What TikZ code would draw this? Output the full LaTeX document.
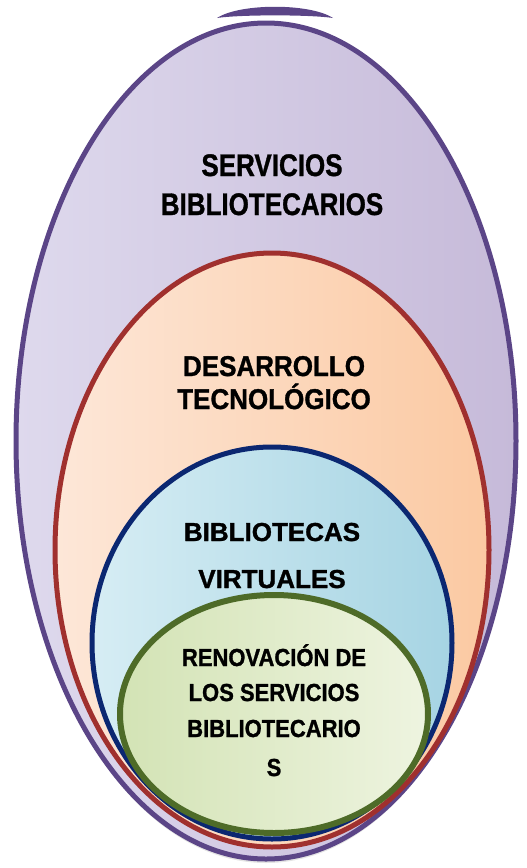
\documentclass[tikz,border=0pt]{standalone}
\usepackage{fontspec}
\setmainfont{Liberation Sans}[BoldFeatures={FakeBold=1.2}]
\usepackage{graphicx}
\definecolor{purpleline}{HTML}{5B4587}
\definecolor{purpleL}{HTML}{DED9ED}
\definecolor{purpleR}{HTML}{C6BAD9}
\definecolor{redline}{HTML}{A0302E}
\definecolor{peachL}{HTML}{FDE7D8}
\definecolor{peachR}{HTML}{FBC9A2}
\definecolor{navyline}{HTML}{0B2771}
\definecolor{cyanL}{HTML}{D6EDF4}
\definecolor{cyanR}{HTML}{A6D4E3}
\definecolor{greenline}{HTML}{4E6B28}
\definecolor{greenL}{HTML}{D3E3B5}
\definecolor{greenR}{HTML}{EEF4E0}
\begin{document}
\begin{tikzpicture}[x=1pt,y=-1pt,
  lbl/.style={anchor=base,inner sep=0pt,font=\fontsize{26}{30}\selectfont\bfseries,text=black},
  lblsmall/.style={anchor=base,inner sep=0pt,font=\fontsize{22}{26}\selectfont\bfseries,text=black}]
\useasboundingbox (0,0) rectangle (527,868);
% shadow at bottom
\fill[gray!35,opacity=0.6] (266,444) ellipse [x radius=250pt, y radius=419pt];
% outer purple
\draw[line width=5pt,draw=purpleline,left color=purpleL,right color=purpleR] (266,441) ellipse [x radius=250pt, y radius=418pt];
% top crescent
\fill[purpleline] (217,18) .. controls (240,3) and (310,3) .. (333,18) .. controls (310,14.5) and (240,14.5) .. (217,18) -- cycle;
% red
\draw[line width=5pt,draw=redline,left color=peachL,right color=peachR] (272,550) ellipse [x radius=217pt, y radius=297pt];
% blue
\draw[line width=5pt,draw=navyline,left color=cyanL,right color=cyanR] (272,643) ellipse [x radius=180pt, y radius=196pt];
% green
\draw[line width=6pt,draw=greenline,left color=greenL,right color=greenR] (274,714) ellipse [x radius=154pt, y radius=119pt];
% labels
\node[lbl] (s1) at (272,176) {\scalebox{1}[1.2]{SERVICIOS}};
\node[lbl] (s2) at (272,215) {\scalebox{1}[1.2]{BIBLIOTECARIOS}};
\node[lbl] (d1) at (274,376) {\scalebox{1}[1.1]{DESARROLLO}};
\node[lbl] (d2) at (274,409) {\scalebox{1}[1.1]{TECNOLÓGICO}};
\node[lbl] (b1) at (272,541) {BIBLIOTECAS};
\node[lbl] (b2) at (272,588) {VIRTUALES};
\node[lblsmall] (r1) at (274,666) {\scalebox{1}[1.12]{RENOVACIÓN DE}};
\node[lblsmall] (r2) at (274,701) {\scalebox{1}[1.12]{LOS SERVICIOS}};
\node[lblsmall] (r3) at (274,737) {\scalebox{1}[1.12]{BIBLIOTECARIO}};
\node[lblsmall] (r4) at (274,776) {\scalebox{1}[1.12]{S}};
\end{tikzpicture}
\end{document}
